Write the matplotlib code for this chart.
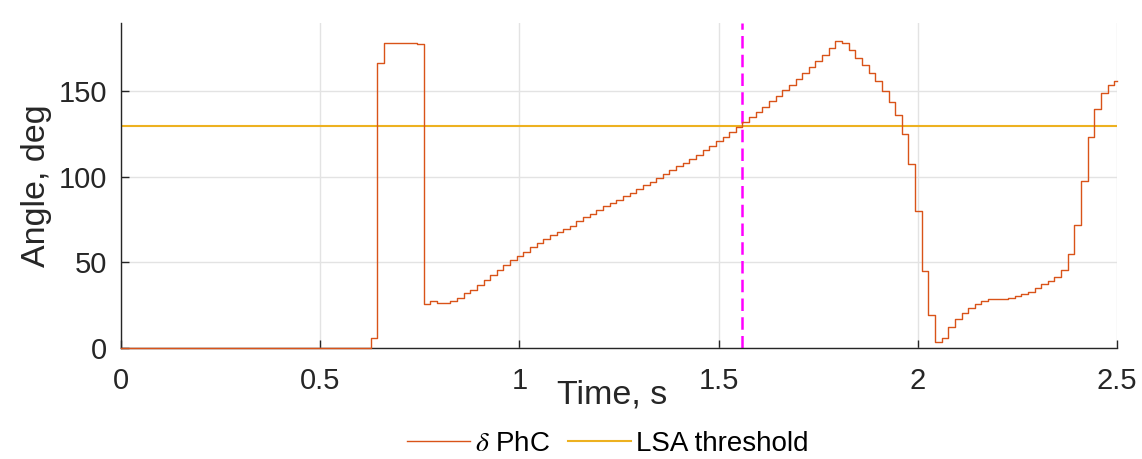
import numpy as np
import matplotlib.pyplot as plt

plt.rcParams['font.family'] = ['Liberation Sans', 'DejaVu Sans']
plt.rcParams['mathtext.fontset'] = 'stix'

# sampled at 60 Hz, first sample at 10 ms
fs = 60.0
t0 = 0.01

# phase angle, deg (one value per sample)
phc_deg = (
    [0.0] * 37
    + [6.0, 166.5, 178.2, 178.2, 178.2, 178.2, 178.2, 177.6]
    + [25.8, 27.5, 26.6, 26.6, 27.5, 29.5, 32.0, 34.2, 37.1, 39.9,
       42.6, 45.5, 48.5, 51.4, 53.9, 56.3, 58.8, 61.2, 63.5, 65.8,
       68.0, 69.8, 71.5, 74.2, 76.4, 78.5, 80.7, 82.8, 84.8, 86.8,
       88.9, 90.9, 92.8, 95.1, 96.9, 99.2, 101.6, 103.9, 106.3, 108.4,
       110.8, 113.1, 115.7, 118.3, 120.9, 123.5, 126.2, 129.1, 131.9, 134.8,
       137.9, 141.1, 144.2, 147.3, 150.6, 154.0, 157.5, 161.0, 164.5, 167.8,
       171.3, 175.3, 179.4, 178.2, 174.1, 169.8, 165.5, 161.0, 156.1, 150.4,
       144.0, 136.2, 124.9, 107.7, 79.9, 45.3, 19.2, 3.5, 5.9, 12.1,
       16.8, 20.3, 23.3, 26.0, 27.7, 28.9, 28.9, 28.9, 29.5, 30.5,
       31.5, 32.9, 34.9, 37.2, 39.3, 41.6, 45.7, 55.1, 71.7, 97.5,
       123.5, 139.9, 148.9, 153.8, 155.9, 155.9]
)

lsa_threshold = 130.0
t_event = 1.558

time = np.concatenate([[0.0], t0 + np.arange(len(phc_deg)) / fs])
angle = np.concatenate([[0.0], phc_deg])
time[-1] = 2.5

fig = plt.figure(figsize=(11.42, 4.59), dpi=100)
ax = fig.add_axes([0.106, 0.2418, 0.872, 0.708])

txt = '#262626'

ax.plot(time, angle, drawstyle='steps-post', color='#D95319', lw=1.0,
        label=r'$\delta$ PhC', zorder=3, clip_on=False)
ax.axhline(lsa_threshold, color='#EDB120', lw=1.5, label='LSA threshold', zorder=2)
ax.axvline(t_event, color='#FF00FF', lw=1.8, dashes=(5, 2.5), zorder=2)

ax.set_xlim(0, 2.5)
ax.set_ylim(0, 190)
ax.set_xticks([0, 0.5, 1, 1.5, 2, 2.5])
ax.set_xticklabels(['0', '0.5', '1', '1.5', '2', '2.5'])
ax.set_yticks([0, 50, 100, 150])

ax.grid(True, color='#E3E3E3', lw=1.0)
ax.set_axisbelow(True)
for s in ['top', 'right']:
    ax.spines[s].set_visible(False)
for s in ['left', 'bottom']:
    ax.spines[s].set_color(txt)
    ax.spines[s].set_linewidth(1.0)

ax.tick_params(direction='in', length=6, width=1.0, color=txt,
               labelcolor=txt, labelsize=21)
ax.tick_params(axis='x', pad=14)
ax.tick_params(axis='y', pad=10)

ax.set_xlabel('Time, s', fontsize=24.5, color=txt)
ax.xaxis.set_label_coords(0.493, -0.145)
ax.xaxis.label.set_va('center')
ax.set_ylabel('Angle, deg', fontsize=24.5, color=txt)
ax.yaxis.set_label_coords(-0.085, 0.5)
ax.yaxis.label.set_va('center')

leg = fig.legend(loc='center', bbox_to_anchor=(608 / 1142, 1 - 444 / 459),
                 ncol=2, frameon=False, fontsize=20, handlelength=2.25,
                 handletextpad=0.2, columnspacing=0.65, labelcolor='black')

fig.savefig('out.png', dpi=100)
